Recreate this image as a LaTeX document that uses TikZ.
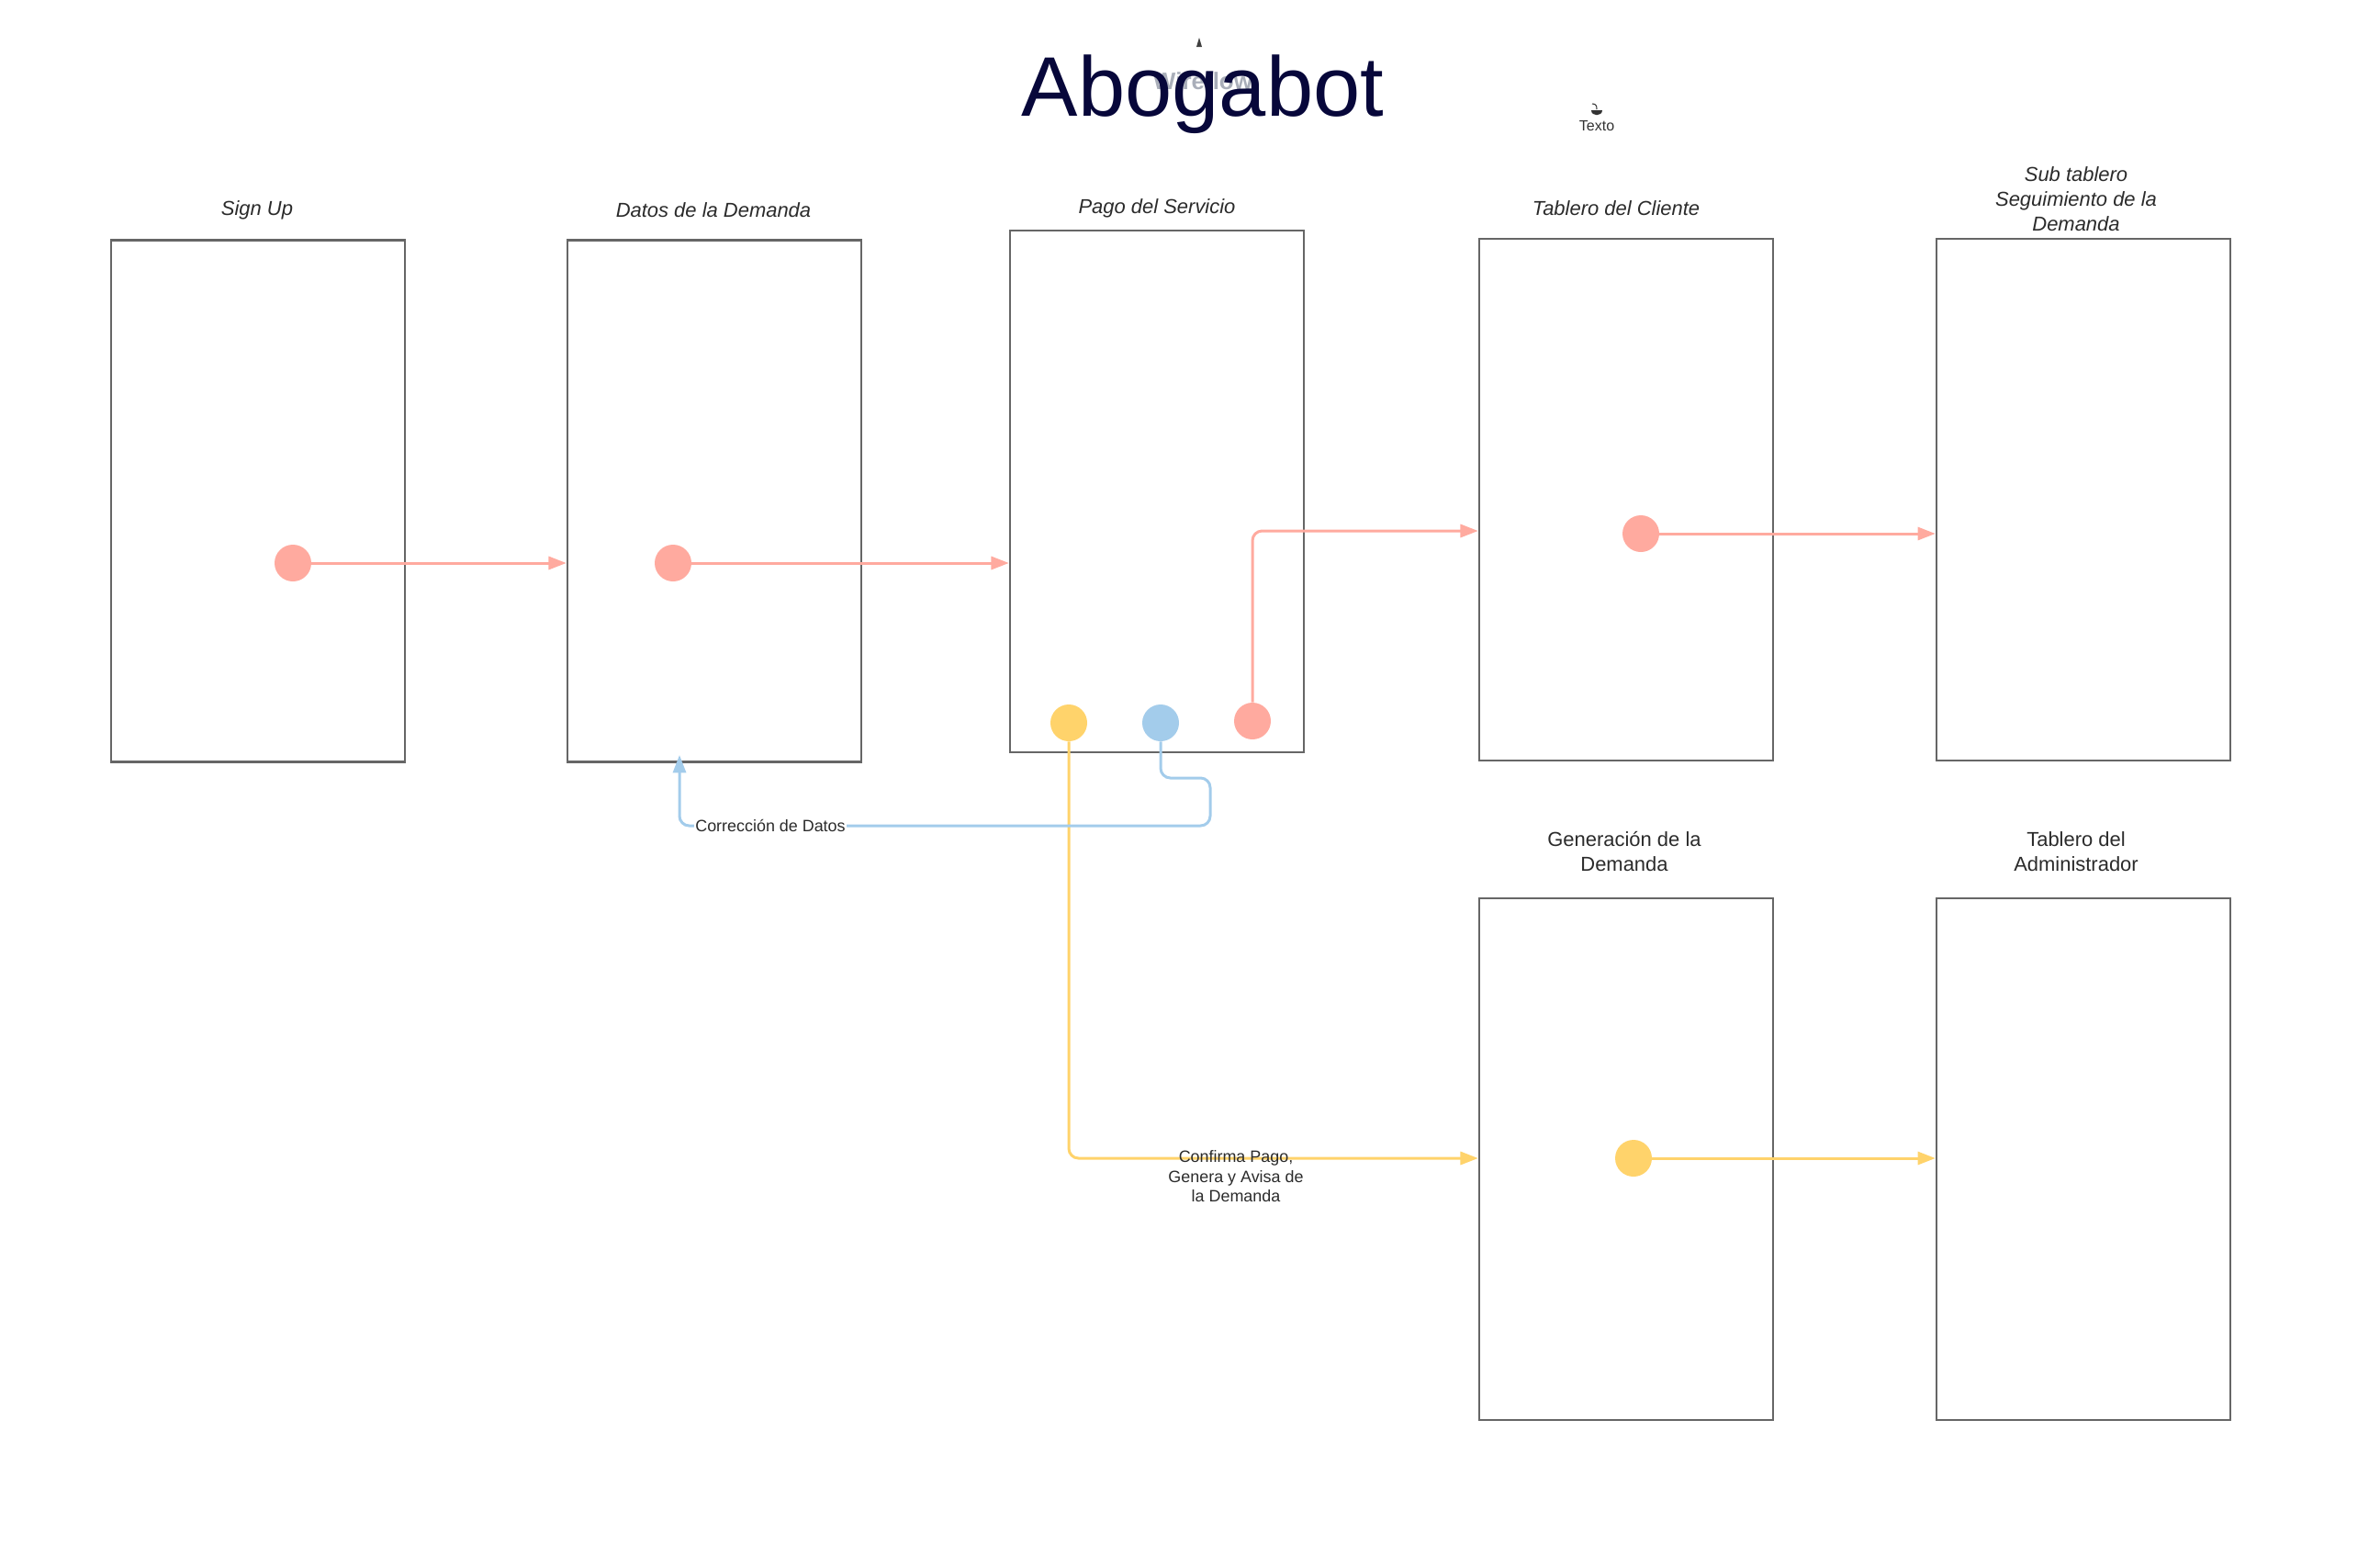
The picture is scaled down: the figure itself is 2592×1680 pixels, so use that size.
\documentclass[tikz,border=0pt]{standalone}
\usepackage{fontspec}
\setmainfont{Liberation Sans}
\usetikzlibrary{arrows.meta,calc}
\definecolor{lred}{HTML}{FFAA9F}
\definecolor{lyel}{HTML}{FFD36B}
\definecolor{lblue}{HTML}{A3CCEB}
\definecolor{boxgray}{HTML}{666666}
\definecolor{navy}{HTML}{07073A}
\definecolor{wgray}{HTML}{A9AEB9}
\definecolor{txt}{HTML}{2B2B2B}
\begin{document}
\begin{tikzpicture}[x=0.02cm,y=-0.02cm,
  screen/.style={draw=boxgray,line width=1.4pt,minimum width=6.4cm,minimum height=11.37cm,inner sep=0pt,fill=white},
  dot/.style={circle,minimum size=0.8cm,inner sep=0pt},
  flow/.style={line width=1.7pt,rounded corners=6pt,-{Triangle[length=11pt,width=8pt]}},
  ttl/.style={font=\fontsize{12.5}{15.4}\selectfont\itshape,align=center,text=txt},
  ttlb/.style={font=\fontsize{12.5}{15.4}\selectfont,align=center,text=txt},
  lbl/.style={font=\fontsize{10.2}{12.2}\selectfont,align=center,text=txt,inner sep=1pt}]
\useasboundingbox (0,0) rectangle (2592,1680);

% title
\node[font=\fontsize{14.8}{16}\selectfont\bfseries,text=wgray] (wf) at (1310,88) {Wireflow};
\node[font=\fontsize{52.4}{60}\selectfont,text=navy,anchor=base,inner sep=0pt] (title) at (1310,126) {Abogabot};
\fill[black!75] (1303,51) -- (1306,41) -- (1309,51) -- cycle;
\node[font=\fontsize{9.1}{10}\selectfont,text=black!80,inner sep=0pt] (texto) at (1739,137) {Texto};
\fill[black!80] (1733,120) -- (1745,120) .. controls (1745,127) and (1733,127) .. (1733,120) -- cycle;
\draw[black!80,line width=0.6pt] (1734,113) .. controls (1738,113) and (1739,115) .. (1739,119);

% screens
\node[screen] (signup) at (281,545.5) {};
\node[screen] (datos) at (778,545.5) {};
\node[screen] (pago) at (1260,535) {};
\node[screen] (cliente) at (1771,544) {};
\node[screen] (sub) at (2269,544) {};
\node[screen] (gen) at (1771,1262) {};
\node[screen] (admin) at (2269,1262) {};

% labels
\node[ttl] (lsignup) at (280,229) {Sign Up};
\node[ttl] (ldatos) at (777,229) {Datos de la Demanda};
\node[ttl] (lpago) at (1260,227) {Pago del Servicio};
\node[ttl] (lcliente) at (1760,227) {Tablero del Cliente};
\node[ttl] (lsub) at (2261,217) {Sub tablero\\Seguimiento de la\\Demanda};
\node[ttlb] (lgen) at (1769,927) {Generación de la\\Demanda};
\node[ttlb] (ladmin) at (2261,927) {Tablero del\\Administrador};

% dots
\node[dot,fill=lred] (d1) at (319,613) {};
\node[dot,fill=lred] (d2) at (733,613) {};
\node[dot,fill=lyel] (py) at (1164,787) {};
\node[dot,fill=lblue] (pb) at (1264,787) {};
\node[dot,fill=lred] (pr) at (1364,785) {};
\node[dot,fill=lred] (dc) at (1787,581) {};
\node[dot,fill=lyel] (gd) at (1779,1261) {};
\coordinate (cfix) at (740,822);

% connectors
\draw[flow,lred] (d1) -- (datos.west |- d1);
\draw[flow,lred] (d2) -- (pago.west |- d2);
\draw[flow,lred] (pr) |- ($(cliente.west)+(0,34)$);
\draw[flow,lred] (dc) -- (sub.west |- dc);
\draw[flow,lyel] (py) |- (gen.west |- gd);
\draw[flow,lyel] (gd) -- (admin.west |- gd);
\draw[flow,lblue] (pb) -- (1264,847) -- (1318,847) -- (1318,899) -- (740,899) -- (cfix);

\node[lbl,fill=white] (lcorr) at (839,899) {Corrección de Datos};
\node[lbl] (lconf) at (1346,1281) {Confirma Pago,\\Genera y Avisa de\\la Demanda};
\end{tikzpicture}
\end{document}
